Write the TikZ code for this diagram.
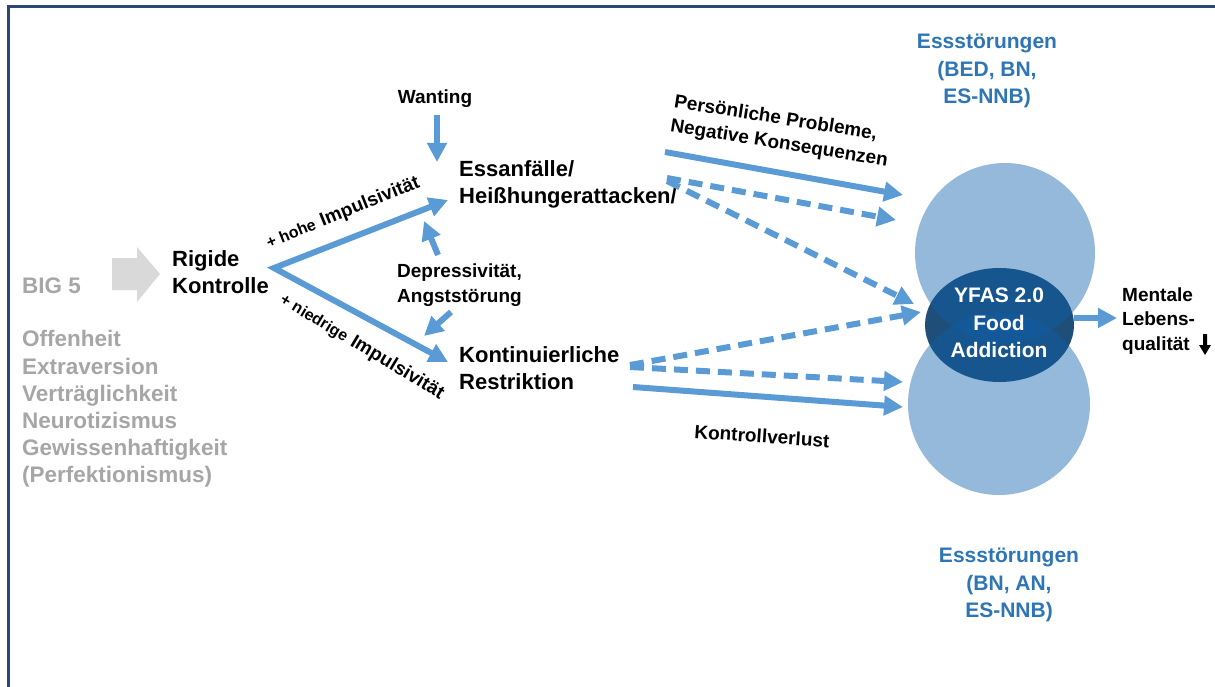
\documentclass[tikz,border=0pt]{standalone}
\usepackage{fontspec}
\setmainfont{Liberation Sans}
\usetikzlibrary{arrows.meta,shapes.geometric}
\definecolor{arrowblue}{HTML}{5B9BD5}
\definecolor{framecol}{HTML}{2B4875}
\definecolor{greytext}{HTML}{A6A6A6}
\definecolor{greyarrow}{HTML}{D9D9D9}
\definecolor{titleblue}{HTML}{2E75B6}
\definecolor{ellcol}{HTML}{1F4E79}
\definecolor{circcol}{RGB}{14,96,171}
\tikzset{
  tip/.tip={Triangle[length=19pt,width=19pt]},
  conn/.style={line width=6pt, draw=arrowblue, -tip},
  dconn/.style={conn, dash pattern=on 14pt off 8pt},
  txt/.style={inner sep=0pt, font=\fontsize{22}{27}\selectfont\bfseries, align=left, text=black},
  stxt/.style={inner sep=0pt, font=\fontsize{19}{24.5}\selectfont\bfseries, align=left, text=black},
  greytxt/.style={inner sep=0pt, font=\fontsize{22.5}{27.2}\selectfont\bfseries, align=left, text=greytext},
  btxt/.style={inner sep=0pt, font=\fontsize{21}{27.5}\selectfont\bfseries, align=center, text=titleblue},
  wtxt/.style={inner sep=0pt, font=\fontsize{21}{27.5}\selectfont\bfseries, align=center, text=white},
  circ/.style={circle, fill=circcol, fill opacity=0.44, inner sep=0pt},
}
\begin{document}
\begin{tikzpicture}[x=1pt,y=-1pt]
\useasboundingbox (0,0) rectangle (1215,687);
% frame
\draw[framecol, line width=3pt] (8,687) -- (8,7) -- (1215,7);

% grey block arrow
\fill[greyarrow] (112,258) -- (137,258) -- (137,247) -- (160,274) -- (137,302) -- (137,290) -- (112,290) -- cycle;

% left texts
\node[greytxt, anchor=west] (big) at (22,286) {BIG 5};
\node[greytxt, anchor=west] (list) at (22,409) {Offenheit\\Extraversion\\Verträglichkeit\\Neurotizismus\\Gewissenhaftigkeit\\(Perfektionismus)};
\node[txt, anchor=west] (rk) at (172,272) {Rigide\\Kontrolle};

% middle texts
\node[stxt, anchor=center] (want) at (435,99) {Wanting};
\node[txt, anchor=west] (ess) at (459,184) {Essanfälle/\\Heißhungerattacken/};
\node[stxt, anchor=west] (dep) at (397,285) {Depressivität,\\Angststörung};
\node[txt, anchor=west] (kon) at (459,368) {Kontinuierliche\\Restriktion};

% branch labels
\node[inner sep=0pt, rotate=22, font=\bfseries] (hl) at (343,213)
  {{\fontsize{16}{18}\selectfont + hohe}\hspace{6pt}{\fontsize{19}{22}\selectfont Impulsivität}};
\node[inner sep=0pt, rotate=-31, font=\bfseries] (nl) at (362,347)
  {{\fontsize{16}{18}\selectfont + niedrige}\hspace{6pt}{\fontsize{19}{22}\selectfont Impulsivität}};

% right texts
\node[stxt, rotate=-9] (pp) at (781,132) {Persönliche Probleme,\\Negative Konsequenzen};
\node[stxt, rotate=-4] (kv) at (762,436) {Kontrollverlust};
\node[btxt] (es1) at (987,71) {Essstörungen\\(BED, BN,\\ES-NNB)};
\node[btxt] (es2) at (1009,585) {Essstörungen\\(BN, AN,\\ES-NNB)};

% YFAS cluster
\node[ellipse, fill=ellcol, minimum width=149pt, minimum height=114pt, inner sep=0pt] (yfasbg) at (999.5,325) {};
\node[circ, minimum size=180pt] (cu) at (1005,253) {};
\node[circ, minimum size=182pt] (cl) at (999,404) {};
\node[wtxt] (yfas) at (999,323) {YFAS 2.0\\Food\\Addiction};
\node[stxt, anchor=west] (ment) at (1122,321) {Mentale\\Lebens-\\qualität\hspace{18pt}};
% bold down arrow glyph after "qualität"
\fill[black] (1203,334) -- (1207,334) -- (1207,345) -- (1211,345) -- (1205,355) -- (1199,345) -- (1203,345) -- cycle;

% coordinates
\coordinate (j) at (274,268);
\coordinate (essin) at (448,200);
\coordinate (konin) at (448,362);
\coordinate (wantin) at (437,162);
\coordinate (wantout) at (437,115);
\coordinate (depup0) at (438,255);
\coordinate (depup1) at (424,221);
\coordinate (depdn0) at (451,312);
\coordinate (depdn1) at (424,336);
\coordinate (e0) at (665,152);
\coordinate (e1) at (903,195);
\coordinate (e2) at (667,178);
\coordinate (e3) at (896,220);
\coordinate (e4) at (667,181);
\coordinate (e5) at (914,304);
\coordinate (k0) at (630,365);
\coordinate (k1) at (921,312);
\coordinate (k2) at (630,367);
\coordinate (k3) at (903,382);
\coordinate (k4) at (633,387);
\coordinate (k5) at (903,407);
\coordinate (m0) at (1074,318);
\coordinate (m1) at (1117,318);

% connectors
\draw[line width=6pt, draw=arrowblue, tip-tip, line join=miter] (essin) -- (j) -- (konin);
\draw[conn] (wantout) -- (wantin);
\draw[conn] (depup0) -- (depup1);
\draw[conn] (depdn0) -- (depdn1);
\draw[conn] (e0) -- (e1);
\draw[dconn] (e2) -- (e3);
\draw[dconn] (e4) -- (e5);
\draw[dconn] (k0) -- (k1);
\draw[dconn] (k2) -- (k3);
\draw[conn] (k4) -- (k5);
\draw[conn] (m0) -- (m1);
\end{tikzpicture}
\end{document}
